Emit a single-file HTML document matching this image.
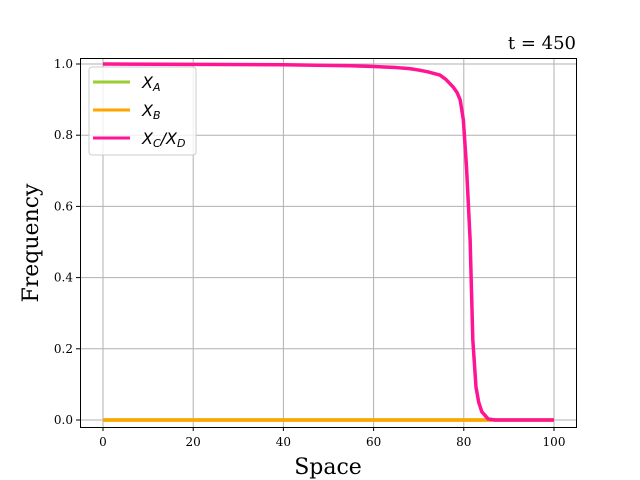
<!DOCTYPE html>
<html><head><meta charset="utf-8"><style>body{margin:0;background:#fff}svg{display:block}</style></head>
<body>
<svg id="chart" width="640" height="480" xmlns="http://www.w3.org/2000/svg">
<g id="grid"></g>
<g id="series"></g>
<rect x="80.5" y="58.5" width="496" height="369" fill="none" stroke="#000" stroke-width="1"/>
<g id="ticks" font-family="DejaVu Serif, Liberation Serif, serif" font-size="12" fill="#000"></g>
<text x="576" y="49" text-anchor="end" font-family="DejaVu Serif, Liberation Serif, serif" font-size="18">t = 450</text>
<text x="328" y="474" text-anchor="middle" font-family="DejaVu Serif, Liberation Serif, serif" font-size="22">Space</text>
<text transform="translate(38,243) rotate(-90)" text-anchor="middle" font-family="DejaVu Serif, Liberation Serif, serif" font-size="22">Frequency</text>
<g>
<rect x="89" y="67" width="107" height="88" rx="3" fill="#fff" fill-opacity="0.8" stroke="#ccc"/>
<line x1="93" y1="82" x2="130" y2="82" stroke="#9acd32" stroke-width="3"/>
<text x="142" y="88" font-family="DejaVu Sans, Liberation Sans, sans-serif" font-size="16" font-style="italic">X<tspan font-size="11" dy="3">A</tspan></text>
<line x1="93" y1="110" x2="130" y2="110" stroke="#ffa500" stroke-width="3"/>
<text x="142" y="116" font-family="DejaVu Sans, Liberation Sans, sans-serif" font-size="16" font-style="italic">X<tspan font-size="11" dy="3">B</tspan></text>
<line x1="93" y1="138" x2="130" y2="138" stroke="#ff1493" stroke-width="3"/>
<text x="142" y="144" font-family="DejaVu Sans, Liberation Sans, sans-serif" font-size="16" font-style="italic">X<tspan font-size="11" dy="3">C</tspan><tspan dy="-3">/X</tspan><tspan font-size="11" dy="3">D</tspan></text>
</g>
</svg>
<script>
const xTicks = [0, 20, 40, 60, 80, 100];
const yTicks = [0.0, 0.2, 0.4, 0.6, 0.8, 1.0];
const spaceX = [0, 20, 40, 55, 60, 65, 68, 70, 72, 74.7, 76, 77.6, 78.5, 79.2, 79.9, 80.6, 81.4, 82.0, 82.7, 83.3, 84.0, 85.4, 87, 100];
const xCD = [1.0, 0.999, 0.998, 0.995, 0.993, 0.99, 0.987, 0.983, 0.978, 0.969, 0.957, 0.936, 0.92, 0.899, 0.843, 0.711, 0.506, 0.225, 0.093, 0.05, 0.023, 0.003, 0.0, 0.0];
const xA = spaceX.map(() => 0);
const xB = spaceX.map(() => 0);
const NS = 'http://www.w3.org/2000/svg';
function sx(v){ return 103 + v * 4.51; }
function sy(v){ return 420 - v * 356; }
const grid = document.getElementById('grid'), ticks = document.getElementById('ticks'), series = document.getElementById('series');
xTicks.forEach(t => {
  const l = document.createElementNS(NS,'line');
  
  
  l.setAttribute('x1',sx(t)); l.setAttribute('x2',sx(t)); l.setAttribute('y1',58); l.setAttribute('y2',427);
  l.setAttribute('stroke','#b0b0b0'); l.setAttribute('stroke-width','1'); grid.appendChild(l);
  const k = document.createElementNS(NS,'line');
  
  
  k.setAttribute('x1',sx(t)); k.setAttribute('x2',sx(t)); k.setAttribute('y1',427); k.setAttribute('y2',431);
  k.setAttribute('stroke','#000'); ticks.appendChild(k);
  const tx = document.createElementNS(NS,'text');
  
  
  tx.setAttribute('x',sx(t)); tx.setAttribute('y',446); tx.setAttribute('text-anchor','middle');
  tx.textContent = t; ticks.appendChild(tx);
});
yTicks.forEach(t => {
  const l = document.createElementNS(NS,'line');
  
  
  l.setAttribute('x1',80); l.setAttribute('x2',576); l.setAttribute('y1',sy(t)); l.setAttribute('y2',sy(t));
  l.setAttribute('stroke','#b0b0b0'); l.setAttribute('stroke-width','1'); grid.appendChild(l);
  const k = document.createElementNS(NS,'line');
  
  
  k.setAttribute('x1',76); k.setAttribute('x2',80); k.setAttribute('y1',sy(t)); k.setAttribute('y2',sy(t));
  k.setAttribute('stroke','#000'); ticks.appendChild(k);
  const tx = document.createElementNS(NS,'text');
  
  
  tx.setAttribute('x',73); tx.setAttribute('y',sy(t)+4); tx.setAttribute('text-anchor','end');
  tx.textContent = t.toFixed(1); ticks.appendChild(tx);
});
function drawLine(vals, color, name){
  const p = document.createElementNS(NS,'polyline');
  
  
  p.setAttribute('points', vals.map((v,i)=>sx(spaceX[i])+','+sy(v)).join(' '));
  p.setAttribute('fill','none'); p.setAttribute('stroke',color); p.setAttribute('stroke-width','3.5');
  p.setAttribute('stroke-linejoin','round');
  series.appendChild(p);
}
drawLine(xA,'#9acd32','series-xa');
drawLine(xB,'#ffa500','series-xb');
drawLine(xCD,'#ff1493','series-xcxd');
</script>
</body></html>
